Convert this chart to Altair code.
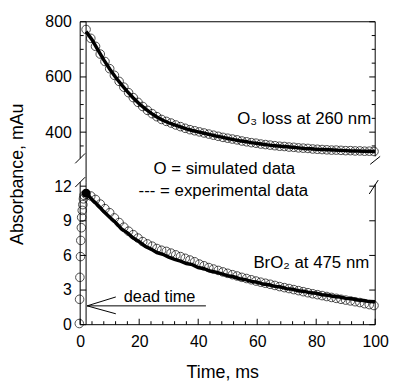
import altair as alt
import pandas as pd

# ---------------- data ----------------
t_sim = [2.0, 3.6, 5.2, 6.8, 8.4, 10.0, 11.6, 13.2, 14.8, 16.4, 18.0, 19.6, 21.2, 22.8,
         24.4, 26.0, 27.6, 29.2, 30.8, 32.4, 34.0, 35.6, 37.2, 38.8, 40.4, 42.0, 43.6,
         45.2, 46.8, 48.4, 50.0, 51.6, 53.2, 54.8, 56.4, 58.0, 59.6, 61.2, 62.8, 64.4,
         66.0, 67.6, 69.2, 70.8, 72.4, 74.0, 75.6, 77.2, 78.8, 80.4, 82.0, 83.6, 85.2,
         86.8, 88.4, 90.0, 91.6, 93.2, 94.8, 96.4, 98.0, 99.6]

o3_sim = [772, 740, 711, 683, 656, 630, 606, 584, 563, 543, 525, 508, 493, 479,
          467, 456, 446, 439, 433, 426, 420, 414, 409, 405, 401, 397, 393,
          389, 385, 381, 378, 375, 372, 368, 365, 362, 360, 357, 355, 353,
          351, 349, 348, 346, 345, 343, 342, 341, 339, 338, 337, 336, 335,
          335, 334, 333, 333, 332, 332, 331, 331, 330]

bro2_sim = [11.3, 11.15, 10.85, 10.45, 10.05, 9.7, 9.25, 8.85, 8.45, 8.1, 7.8, 7.5, 7.2, 7.0,
            6.8, 6.6, 6.45, 6.35, 6.2, 6.05, 5.9, 5.75, 5.6, 5.45, 5.25, 5.1, 4.95,
            4.82, 4.7, 4.57, 4.45, 4.33, 4.22, 4.1, 4.0, 3.89, 3.78, 3.68, 3.59, 3.5,
            3.4, 3.3, 3.21, 3.13, 3.04, 2.95, 2.86, 2.77, 2.68, 2.6, 2.52, 2.44, 2.36,
            2.28, 2.2, 2.13, 2.06, 1.99, 1.92, 1.82, 1.74, 1.66]

t_dead = [-0.3, -0.2, -0.1, 0.1, 0.2, 0.4, 0.5, 0.7, 0.9, 1.1, 1.3]
bro2_dead = [0.1, 2.2, 4.1, 5.9, 7.3, 8.4, 9.3, 9.9, 10.4, 10.9, 11.2]

t_exp = [2, 4, 6, 8, 10, 12, 14, 16, 18, 20, 22, 24, 26, 28, 30, 32, 34, 36, 38, 40,
         42, 44, 46, 48, 50, 52, 54, 56, 58, 60, 62, 64, 66, 68, 70, 72, 74, 76, 78, 80,
         82, 84, 86, 88, 90, 92, 94, 96, 98, 100]

o3_exp = [765, 735, 698, 662, 629, 599, 572, 547, 524, 503, 485, 469, 455, 443, 434,
          426, 419, 412, 406, 401, 396, 391, 386, 382, 377, 373, 369, 366, 362, 359,
          356, 353, 351, 349, 347, 345, 343, 341, 340, 338, 337, 336, 335, 334, 333,
          332, 332, 331, 331, 330]

bro2_exp = [11.4, 10.85, 10.35, 9.8, 9.3, 8.85, 8.3, 7.95, 7.5, 7.2, 6.8, 6.55, 6.25, 6.1,
            5.85, 5.65, 5.5, 5.3, 5.2, 4.95, 4.85, 4.65, 4.55, 4.4, 4.25, 4.15, 3.98,
            3.9, 3.75, 3.68, 3.52, 3.46, 3.32, 3.26, 3.12, 3.07, 2.94, 2.88, 2.76, 2.72,
            2.6, 2.55, 2.44, 2.4, 2.28, 2.25, 2.14, 2.1, 2.0, 1.98]

top_major = [400, 600, 800]
top_minor = [350, 450, 500, 550, 650, 700, 750]
bot_major = [0, 3, 6, 9, 12]
x_major = [0, 20, 40, 60, 80, 100]
x_minor = [4, 8, 12, 16, 24, 28, 32, 36, 44, 48, 52, 56, 64, 68, 72, 76, 84, 88, 92, 96]
dead_time_ms = [2]

# ---------------- layout constants ----------------
W = 298
H_TOP = 138
H_BOT = 144
GAP = 24
FONT = "Liberation Sans"
TICK_MAJ = 6
TICK_MIN = 3.5
PT_SIZE = 75

x_scale = alt.Scale(domain=[0, 100], nice=False, zero=False)
y_top = alt.Scale(domain=[305, 800], nice=False, zero=False)
y_bot = alt.Scale(domain=[0, 12.35], nice=False, zero=False)

AX_COMMON = dict(ticks=False, domain=False, grid=False, title=None, labelFont=FONT,
                 labelFontSize=16, labelPadding=9, labelColor="black", labelFlush=False)
AX_Y_TOP = alt.Axis(values=top_major, **AX_COMMON)
AX_Y_BOT = alt.Axis(values=bot_major, **AX_COMMON)
AX_X_BOT = alt.Axis(values=x_major, **AX_COMMON)

dummy = pd.DataFrame({"d": [0]})


def seg(x1, y1, x2, y2, w=1.0):
    return alt.Chart(dummy).mark_rule(color="black", strokeWidth=w).encode(
        x=alt.value(x1), y=alt.value(y1), x2=alt.value(x2), y2=alt.value(y2))


def label(text, x, y, align="left", size=17, angle=0):
    kw = dict(text=text, align=align, baseline="middle", font=FONT,
              fontSize=size, color="black")
    if angle:
        kw["angle"] = angle
    return alt.Chart(dummy).mark_text(**kw).encode(x=alt.value(x), y=alt.value(y))


def X(panel):
    if panel == "top":
        return alt.X("t:Q", scale=x_scale, axis=None)
    return alt.X("t:Q", scale=x_scale, axis=AX_X_BOT)


def Y(panel):
    if panel == "top":
        return alt.Y("v:Q", scale=y_top, axis=AX_Y_TOP)
    return alt.Y("v:Q", scale=y_bot, axis=AX_Y_BOT)


def yticks(values, panel, length, side):
    df = pd.DataFrame({"v": values})
    xa, xb = (0, length) if side == "left" else (W - length, W)
    return alt.Chart(df).mark_rule(color="black", strokeWidth=1).encode(
        y=Y(panel), x=alt.value(xa), x2=alt.value(xb))


def xticks(values, length):
    df = pd.DataFrame({"t": values})
    return alt.Chart(df).mark_rule(color="black", strokeWidth=1).encode(
        x=X("bot"), y=alt.value(H_BOT), y2=alt.value(H_BOT - length))


def circles(df, panel):
    return alt.Chart(df).mark_point(shape="circle", size=PT_SIZE, filled=False,
                                    color="black", strokeWidth=1).encode(x=X(panel), y=Y(panel))


# ---------------- top panel: O3 ----------------
df_o3_sim = pd.DataFrame({"t": t_sim, "v": o3_sim})
df_o3_exp = pd.DataFrame({"t": t_exp, "v": o3_exp})

top_line = alt.Chart(df_o3_exp).mark_line(color="black", strokeWidth=3.5).encode(
    x=X("top"), y=Y("top"))
top_dead = alt.Chart(pd.DataFrame({"t": dead_time_ms})).mark_rule(color="black", strokeWidth=1).encode(
    x=X("top"), y=alt.value(0), y2=alt.value(H_TOP + GAP))

top = alt.layer(
    top_line, circles(df_o3_sim, "top"), top_dead,
    yticks(top_major, "top", TICK_MAJ, "left"), yticks(top_minor, "top", TICK_MIN, "left"),
    yticks(top_major, "top", TICK_MAJ, "right"), yticks(top_minor, "top", TICK_MIN, "right"),
    seg(0, 0, 0, H_TOP), seg(0, 0, W, 0), seg(W, 0, W, H_TOP - 2),
    seg(-5, H_TOP + 5, 5, H_TOP - 5), seg(W - 5, H_TOP + 6, W + 5, H_TOP - 2),
    label("O\u2083 loss at 260 nm", 294, 98, align="right"),
    label("O = simulated data", 74, 149),
    label("Absorbance, mAu", -63, 154, align="center", size=18, angle=270),
).properties(width=W, height=H_TOP)

# ---------------- bottom panel: BrO2 ----------------
df_b_sim = pd.DataFrame({"t": t_sim, "v": bro2_sim})
df_b_dead = pd.DataFrame({"t": t_dead, "v": bro2_dead})
df_b_exp = pd.DataFrame({"t": t_exp, "v": bro2_exp})

bot_line = alt.Chart(df_b_exp).mark_line(color="black", strokeWidth=3.5).encode(
    x=X("bot"), y=Y("bot"))
bot_peak = alt.Chart(df_b_exp.head(1)).mark_point(shape="circle", size=80, filled=True,
                                                  color="black", opacity=1).encode(
    x=X("bot"), y=Y("bot"))
bot_dead = alt.Chart(pd.DataFrame({"t": dead_time_ms})).mark_rule(color="black", strokeWidth=1).encode(
    x=X("bot"), y=alt.value(0), y2=alt.value(H_BOT))

bottom = alt.layer(
    bot_line, bot_peak, circles(df_b_sim, "bot"), circles(df_b_dead, "bot"), bot_dead,
    yticks(bot_major, "bot", TICK_MAJ, "left"), yticks(bot_major, "bot", TICK_MAJ, "right"),
    xticks(x_major, TICK_MAJ), xticks(x_minor, TICK_MIN),
    seg(0, 0, 0, H_BOT), seg(0, H_BOT, W, H_BOT), seg(W, 2, W, H_BOT),
    seg(-5, 5, 5, -5), seg(W - 6, 12, W + 3, -2),
    # dead-time arrow
    seg(7, 125, 127, 125), seg(7, 125, 36, 116), seg(7, 125, 36, 133),
    label("--- = experimental data", 59, 9),
    label("BrO\u2082 at 475 nm", 292, 82, align="right"),
    label("dead time", 44, 116, size=16.5),
    label("Time, ms", 144, 193, align="center", size=18),
).properties(width=W, height=H_BOT)

chart = alt.vconcat(top, bottom, spacing=GAP, bounds="flush").properties(
    padding={"left": 9, "top": 12, "right": 5, "bottom": 5}
).configure_view(strokeWidth=0, stroke="transparent")

chart.save("out.html", embed_options={"renderer": "svg", "actions": False})
